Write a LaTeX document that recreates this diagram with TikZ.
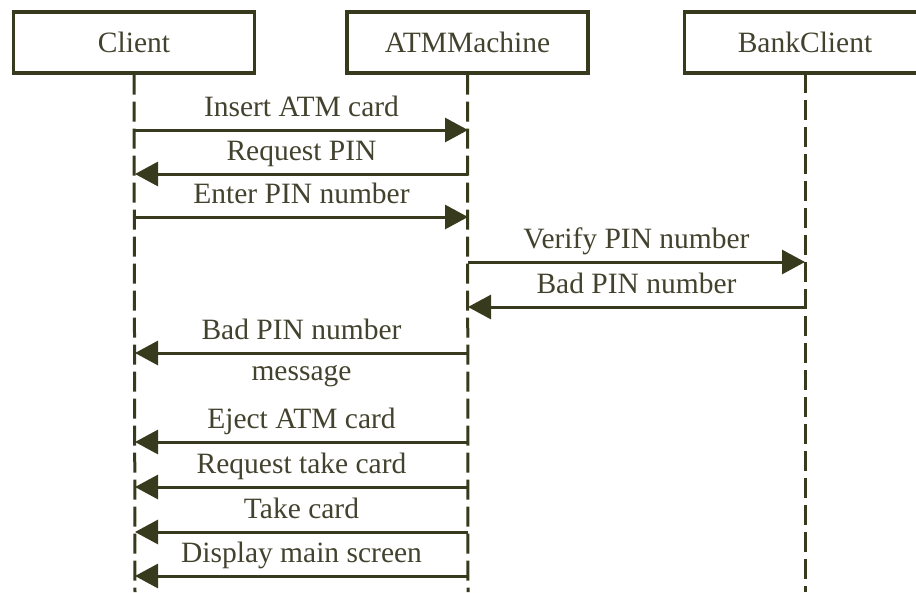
\documentclass[tikz,border=0pt]{standalone}
\usepackage{fontspec}
\setmainfont{Liberation Serif}
\usetikzlibrary{arrows.meta}
\usepackage{xcolor}
\definecolor{ink}{RGB}{55,58,28}
\definecolor{inktext}{RGB}{66,66,46}

\begin{document}
\begin{tikzpicture}[
    x=1pt, y=-1pt,
    every node/.style={font=\fontsize{29.5}{33}\selectfont, text=inktext},
    actor/.style={draw=ink, line width=3.2pt, minimum width=241pt,
      minimum height=61pt, inner sep=0pt},
    lifeline/.style={draw=ink, line width=3pt, dash pattern=on 20pt off 7pt},
    msg/.style={draw=ink, line width=3pt,
      -{Triangle[length=23pt, width=24pt]}},
    lbl/.style={anchor=base, yshift=14pt, inner sep=0pt},
  ]

  \clip (0,0) rectangle (916,592);

  % --- Objects across the top ---
  \node[actor] (client) at (134,42.5) {Client};
  \node[actor] (atm) at (467.5,42.5) {ATMMachine};
  % BankClient box runs off the right edge
  \node[actor, minimum width=270pt] (bank) at (819.5,42.5) {};
  \node (bankname) at (805,42.5) {BankClient};

  % --- Lifelines, down to the bottom edge ---
  \coordinate (bTop) at (805,73);
  \coordinate (cEnd) at (135,592);
  \coordinate (aEnd) at (468,592);
  \coordinate (bEnd) at (805,592);
  \draw[lifeline] (client.south) -- (cEnd);
  \draw[lifeline] (atm.south) -- (aEnd);
  \draw[lifeline] (bTop) -- (bEnd);

  % --- Message end points on the lifelines ---
  \coordinate (c1) at (135,130);  \coordinate (a1) at (468,130);
  \coordinate (c2) at (135,174);  \coordinate (a2) at (468,174);
  \coordinate (c3) at (135,217);  \coordinate (a3) at (468,217);
  \coordinate (a4) at (468,262);  \coordinate (b4) at (805,262);
  \coordinate (a5) at (468,307);  \coordinate (b5) at (805,307);
  \coordinate (c6) at (135,353);  \coordinate (a6) at (468,353);
  \coordinate (c7) at (135,442);  \coordinate (a7) at (468,442);
  \coordinate (c8) at (135,487);  \coordinate (a8) at (468,487);
  \coordinate (c9) at (135,532);  \coordinate (a9) at (468,532);
  \coordinate (c10) at (135,576); \coordinate (a10) at (468,576);

  % --- PIN entry ---
  \draw[msg] (c1) -- node[lbl] {Insert ATM card} (a1);
  \draw[msg] (a2) -- node[lbl] {Request PIN} (c2);
  \draw[msg] (c3) -- node[lbl] {Enter PIN number} (a3);

  % --- Check with the bank ---
  \draw[msg] (a4) -- node[lbl] {Verify PIN number} (b4);
  \draw[msg] (b5) -- node[lbl] {Bad PIN number} (a5);

  % --- Back to the client ---
  \draw[msg] (a6) -- node[lbl] {Bad PIN number}
    node[anchor=base, yshift=-27pt, inner sep=0pt] {message} (c6);
  \draw[msg] (a7) -- node[lbl] {Eject ATM card} (c7);
  \draw[msg] (a8) -- node[lbl] {Request take card} (c8);
  \draw[msg] (a9) -- node[lbl] {Take card} (c9);
  \draw[msg] (a10) -- node[lbl] {Display main screen} (c10);

\end{tikzpicture}
\end{document}
